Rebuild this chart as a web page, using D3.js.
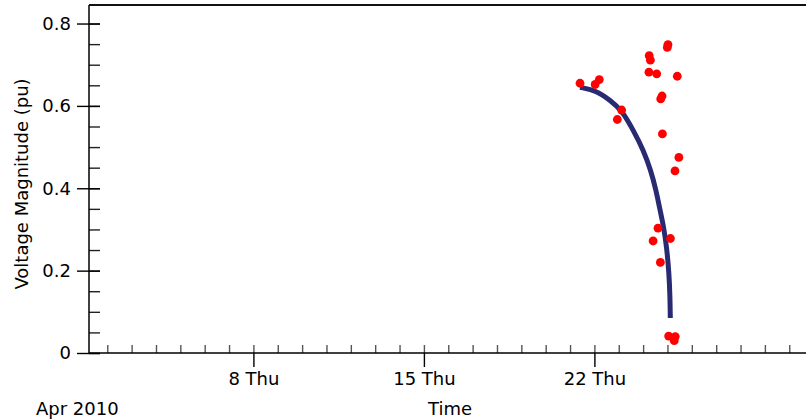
<!DOCTYPE html>
<html>
<head>
<meta charset="utf-8">
<script src="https://cdn.jsdelivr.net/npm/d3@7"></script>
<style>
  body { margin: 0; background: #fff; }
  svg text { font-family: "DejaVu Sans", sans-serif; font-size: 18px; fill: #000; }
</style>
</head>
<body>
<div id="chart"></div>
<script>
// measured points (red dots)
var pointTimes = [
  "2010-04-21 09:50", "2010-04-22 00:45", "2010-04-22 04:50", "2010-04-23 02:50",
  "2010-04-22 22:35", "2010-04-24 06:00", "2010-04-24 07:10", "2010-04-24 05:45",
  "2010-04-24 13:25", "2010-04-25 00:30", "2010-04-24 23:50", "2010-04-25 09:40",
  "2010-04-24 18:40", "2010-04-24 17:20", "2010-04-24 19:00", "2010-04-25 11:15",
  "2010-04-25 07:25", "2010-04-24 14:40", "2010-04-24 09:50", "2010-04-25 02:55",
  "2010-04-24 17:00", "2010-04-25 01:10", "2010-04-25 07:40", "2010-04-25 06:40"
];
var pointValues = [
  0.655, 0.652, 0.664, 0.590,
  0.567, 0.722, 0.711, 0.682,
  0.678, 0.749, 0.742, 0.672,
  0.624, 0.617, 0.532, 0.475,
  0.442, 0.303, 0.272, 0.278,
  0.220, 0.041, 0.040, 0.030
];

// fitted curve (blue line)
var curveTimes = [
  "2010-04-21 09:50", "2010-04-22 02:15", "2010-04-22 15:22", "2010-04-23 02:54",
  "2010-04-23 14:20", "2010-04-24 00:12", "2010-04-24 07:28", "2010-04-24 12:42",
  "2010-04-24 16:39", "2010-04-24 19:54", "2010-04-24 23:14", "2010-04-25 01:31",
  "2010-04-25 02:30", "2010-04-25 02:47"
];
var curveValues = [
  0.645, 0.637, 0.614, 0.590,
  0.541, 0.493, 0.444, 0.396,
  0.347, 0.311, 0.257, 0.194,
  0.136, 0.085
];

var yMajorTicks = [0, 0.2, 0.4, 0.6, 0.8];
var yMinorTicks = d3.range(0, 17).map(function(i) { return i * 0.05; });
var xLabelDays = ["2010-04-08", "2010-04-15", "2010-04-22"];
var xStart = "2010-04-01 06:00", xEnd = "2010-04-30 16:30";

var width = 806, height = 420;
var plotLeft = 89, plotRight = 806, plotTop = 5, plotBottom = 353;

var parseTime = d3.timeParse("%Y-%m-%d %H:%M");
var parseDay = d3.timeParse("%Y-%m-%d");
var fmtDay = d3.timeFormat("%-d %a");

var svg = d3.select("#chart").append("svg")
  .attr("width", width)
  .attr("height", height);

var x = d3.scaleTime()
  .domain([parseTime(xStart), parseTime(xEnd)])
  .range([plotLeft, plotRight]);

var y = d3.scaleLinear()
  .domain([0, 0.845])
  .range([plotBottom, plotTop]);

// minor x ticks (every day, pointing up)
var dayTicks = d3.timeDay.range(d3.timeDay.ceil(x.domain()[0]), x.domain()[1]);
svg.append("g")
  .attr("transform", "translate(0," + plotBottom + ")")
  .call(d3.axisBottom(x).tickValues(dayTicks).tickSizeInner(-8).tickSizeOuter(0).tickFormat(""))
  .call(function(g) {
    g.select(".domain").remove();
    g.selectAll(".tick line").attr("stroke", "#555").attr("stroke-width", 1.4);
  });

// major x ticks with labels
svg.append("g")
  .attr("transform", "translate(0," + plotBottom + ")")
  .call(d3.axisBottom(x).tickValues(xLabelDays.map(parseDay)).tickSizeInner(14).tickSizeOuter(0)
    .tickPadding(5).tickFormat(fmtDay))
  .call(function(g) {
    g.select(".domain").remove();
    g.selectAll(".tick line").attr("stroke", "#000").attr("stroke-width", 1.4);
    g.selectAll("text").attr("font-size", null).attr("font-family", null);
  });

// minor y ticks
svg.append("g")
  .attr("transform", "translate(" + plotLeft + ",0)")
  .call(d3.axisLeft(y).tickValues(yMinorTicks).tickSizeInner(-11).tickSizeOuter(0).tickFormat(""))
  .call(function(g) {
    g.select(".domain").remove();
    g.selectAll(".tick line").attr("stroke", "#222").attr("stroke-width", 1.4);
  });

// major y ticks with labels
svg.append("g")
  .attr("transform", "translate(" + plotLeft + ",0)")
  .call(d3.axisLeft(y).tickValues(yMajorTicks).tickSizeInner(12).tickSizeOuter(0)
    .tickPadding(6).tickFormat(function(d) { return d === 0 ? "0" : d3.format(".1f")(d); }))
  .call(function(g) {
    g.select(".domain").remove();
    g.selectAll(".tick line").attr("stroke", "#000").attr("stroke-width", 1.4)
      .attr("x2", -12).attr("x1", 11);
    g.selectAll("text").attr("font-size", null).attr("font-family", null);
  });

// frame lines
svg.append("line").attr("x1", plotLeft).attr("x2", plotRight).attr("y1", plotBottom).attr("y2", plotBottom)
  .attr("stroke", "#000").attr("stroke-width", 1.5);
svg.append("line").attr("x1", plotLeft).attr("x2", plotLeft).attr("y1", plotTop).attr("y2", plotBottom)
  .attr("stroke", "#000").attr("stroke-width", 1.5);
svg.append("line").attr("x1", plotLeft).attr("x2", plotRight).attr("y1", plotTop).attr("y2", plotTop)
  .attr("stroke", "#111").attr("stroke-width", 1.8);

// fitted curve
var line = d3.line()
  .x(function(d, i) { return x(parseTime(curveTimes[i])); })
  .y(function(d) { return y(d); })
  .curve(d3.curveBasis);

svg.append("path")
  .datum(curveValues)
  .attr("d", line)
  .attr("fill", "none")
  .attr("stroke", "#282a72")
  .attr("stroke-width", 5);

// measured dots
svg.append("g").selectAll("circle")
  .data(pointValues)
  .enter()
  .append("circle")
  .attr("cx", function(d, i) { return x(parseTime(pointTimes[i])); })
  .attr("cy", function(d) { return y(d); })
  .attr("r", 4.4)
  .attr("fill", "#ff0000");

// axis titles
svg.append("text")
  .attr("transform", "translate(28," + 184 + ") rotate(-90)")
  .attr("text-anchor", "middle")
  .text("Voltage Magnitude (pu)");

svg.append("text")
  .attr("x", 450)
  .attr("y", 415)
  .attr("text-anchor", "middle")
  .text("Time");

svg.append("text")
  .attr("x", 36)
  .attr("y", 415)
  .text("Apr 2010");
</script>
</body>
</html>
